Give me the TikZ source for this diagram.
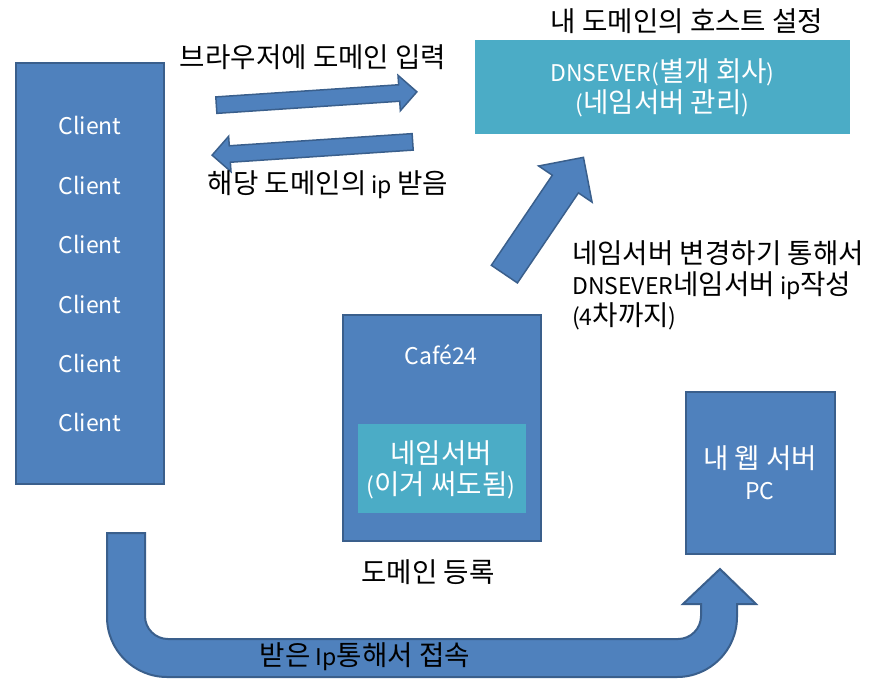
\documentclass[tikz,border=0pt]{standalone}
\usepackage{fontspec}
\setmainfont{Noto Sans CJK KR}
\newfontfamily\krfont[Scale=1.2]{Noto Sans CJK KR}
\newcommand\kr[1]{{\krfont #1}}
\usetikzlibrary{shapes.arrows}
\definecolor{boxblue}{HTML}{4F81BD}
\definecolor{boxedge}{HTML}{3A5F8C}
\definecolor{nsteal}{HTML}{4BACC6}

\begin{document}
\begin{tikzpicture}[x=1pt, y=-1pt, font=\fontsize{23}{31}\selectfont,
  bluebox/.style={fill=boxblue, draw=boxedge, line width=2pt},
  tealbox/.style={fill=nsteal},
  inbox/.style={text=white, align=center},
  blockarrow/.style={single arrow, fill=boxblue, draw=boxedge, line width=1.5pt,
    inner xsep=0pt, inner ysep=7.5pt, single arrow head extend=9.5pt}]
  \useasboundingbox (0,0) rectangle (876,683);
  % pixel coordinates of the sketch, y runs downwards
  \node[bluebox, minimum width=148, minimum height=421] (clients) at (90,273.5) {};
  \foreach \y [count=\i] in {125,185,244,304,363,422}
    { \node[inbox] (client\i) at (90,\y) {Client}; }

  \node (hosttitle) at (687,21) {\kr{내 도메인의 호스트 설정}};
  \node[tealbox, minimum width=375, minimum height=94] (dnsever) at (662.5,86.5) {};
  \node[inbox] (dnslabel) at (662.5,88) {DNSEVER(\kr{별개 회사})\\(\kr{네임서버 관리})};

  \node (browse) at (313,57) {\kr{브라우저에 도메인 입력}};
  \node[blockarrow, minimum height=201, rotate=3.8] (query) at (312.5,98.75) {};
  \node[blockarrow, minimum height=201, rotate=183.8] (reply) at (316.5,148.25) {};
  \node (gotip) at (328,185) {\kr{해당 도메인의} ip \kr{받음}};

  \node[blockarrow, minimum height=141, rotate=55.9, inner ysep=15pt,
    single arrow head extend=16.5pt] (nsarrow) at (539.5,222.25) {};
  \node[align=left, anchor=west, inner xsep=0pt] (nschange) at (572,285)
    {\kr{네임서버 변경하기 통해서}\\DNSEVER\kr{네임서버} ip\kr{작성}\\(4\kr{차까지})};

  \node[bluebox, minimum width=198, minimum height=226] (cafe) at (442,428) {};
  \node[inbox] (cafelabel) at (441,355) {Café24};
  \node[tealbox, minimum width=168, minimum height=89] (nameserver) at (442,468.5) {};
  \node[inbox] (nslabel) at (441,470) {\kr{네임서버}\\(\kr{이거 써도됨})};
  \node (register) at (428,572) {\kr{도메인 등록}};

  \node[bluebox, minimum width=149, minimum height=162] (webpc) at (760.5,473) {};
  \node[inbox] (webpclabel) at (760,473) {\kr{내 웹 서버}\\PC};

  \draw[bluebox] (107,533) -- (145,533) -- (145,616)
    arc[start angle=180, end angle=90, radius=23] -- (678,639)
    arc[start angle=90, end angle=0, radius=23] -- (701,604) -- (683,604)
    -- (720,569) -- (756,604) -- (737,604) -- (737,617)
    arc[start angle=0, end angle=90, radius=60] -- (167,677)
    arc[start angle=90, end angle=180, radius=60] -- cycle;
  \node (connect) at (365,657) {\kr{받은} Ip\kr{통해서 접속}};
\end{tikzpicture}
\end{document}
